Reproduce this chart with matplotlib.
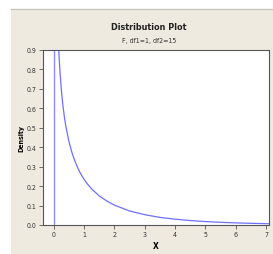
import matplotlib
matplotlib.use('Agg')
import matplotlib.pyplot as plt
from matplotlib.patches import Rectangle

# density curve (F, df1=1, df2=15)
x_vals = [0.16, 0.18, 0.2, 0.25, 0.3, 0.35, 0.4, 0.5, 0.6, 0.7, 0.8, 0.9,
          1.0, 1.1, 1.25, 1.5, 1.75, 2.0, 2.5, 3.0, 3.5, 4.0, 4.5, 5.0,
          5.5, 6.0, 6.5, 7.0, 7.1]
density = [0.901, 0.841, 0.789, 0.687, 0.611, 0.551, 0.503, 0.427, 0.370,
           0.326, 0.289, 0.259, 0.234, 0.212, 0.185, 0.149, 0.123, 0.102,
           0.072, 0.053, 0.039, 0.030, 0.023, 0.0176, 0.0138, 0.0109,
           0.0086, 0.0069, 0.0066]
x_ticks = [0, 1, 2, 3, 4, 5, 6, 7]
y_ticks = [0.0, 0.1, 0.2, 0.3, 0.4, 0.5, 0.6, 0.7, 0.8, 0.9]

W, H = 273, 255
fig = plt.figure(figsize=(W / 100, H / 100), dpi=100)
fig.patch.set_facecolor('white')

# beige panel with gray top edge, in a background axes
bg = fig.add_axes([0, 0, 1, 1], zorder=-10)
bg.set_xlim(0, W)
bg.set_ylim(H, 0)
bg.axis('off')
bg.add_patch(Rectangle((11, 10), W - 11, H - 10, facecolor='#EEEAE0', edgecolor='none'))
bg.plot([11, W], [10, 10], color='#C8C5BC', lw=1)

fp = dict(family='DejaVu Sans', stretch='condensed')
ax = fig.add_axes([43 / W, 1 - 226 / H, (269 - 43) / W, (226 - 51) / H])
ax.set_facecolor('white')

ax.plot(x_vals, density, color='#6F6FFF', lw=0.9)
ax.axvline(0, color='#8A8AFF', lw=1.0)

ax.set_xlim(-0.36, 7.1)
ax.set_ylim(0, 0.9)
ax.set_xticks(x_ticks)
ax.set_yticks(y_ticks)
ax.set_xticklabels([str(t) for t in x_ticks], fontsize=5, color='#333333', **fp)
ax.set_yticklabels(['%.1f' % t for t in y_ticks], fontsize=5, color='#333333', **fp)
ax.tick_params(direction='out', length=3, width=0.6, color='#555555', pad=1.5)

for s in ax.spines.values():
    s.set_color('#555555')
    s.set_linewidth(0.8)

ax.set_xlabel('X', fontsize=6, fontweight='bold', labelpad=3, **fp)
ax.set_ylabel('Density', fontsize=5, fontweight='bold', labelpad=2, **fp)

fig.text(149 / W, 1 - 28 / H, 'Distribution Plot', ha='center', va='center',
         fontsize=6.5, fontweight='bold', color='#222222', **fp)
fig.text(149 / W, 1 - 41 / H, 'F, df1=1, df2=15', ha='center', va='center',
         fontsize=5, color='#333333', **fp)

plt.savefig('out.png', dpi=100, facecolor=fig.get_facecolor())
